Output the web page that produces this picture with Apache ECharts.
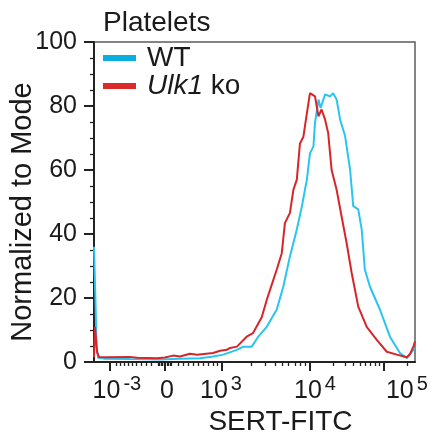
<!DOCTYPE html>
<html>
<head>
<meta charset="utf-8">
<script src="https://cdn.jsdelivr.net/npm/echarts@6/dist/echarts.min.js"></script>
<style>
html,body{margin:0;padding:0;background:#fff;}
#chart{width:431px;height:438px;}
</style>
</head>
<body>
<div id="chart"></div>
<script>
// ---- data (x in display channel units 0..1024 of the biexponential scale) ----
var seriesNames = ['WT', 'Ulk1 ko'];

var wtChannel = [0,5,8,13,35,115,211,274,338,380,412,456,476,503,524,551,583,604,625,647,663,679,689,700,705,716,723,737,753,763,774,785,801,817,827,843,854,864,880,912,944,976,998,1019,1024];
var wtValues  = [36,18,5,1.3,1.0,0.9,0.8,1.0,1.2,1.7,2.3,3.8,4.8,4.8,7.9,11,16.4,23.6,33,41.4,48.6,57,65.2,67.4,74.7,82,79.4,83.6,83,84,82,75.8,70.6,60,48.7,47.7,41.4,28.9,23.6,16.4,7.9,2.8,1.2,3.8,4.5];

var koChannel = [0,3,10,16,41,115,137,201,226,252,274,306,329,380,402,424,434,456,487,507,535,551,583,599,609,625,636,647,657,668,679,689,695,705,716,726,737,747,758,774,790,806,822,843,870,902,934,966,998,1008,1019,1024];
var koValues  = [1.5,11,3,1.6,1.5,1.6,1.3,1.2,1.4,2.0,1.7,2.6,2.3,2.8,3.5,3.8,4.4,4.8,7.9,9,14,19.4,28.9,34,43.4,46.6,53.8,57,68.3,70.4,77.7,84,83.5,83,76.8,78.9,75.8,71.6,60,53.8,45.4,37.1,27.8,17.3,11,6.9,3.2,2.3,1.5,2.5,4.8,6.5];

// axis ticks (channel positions)
var xMajorTicks = [51, 226, 408, 689, 925];
var xMinorTicks = [70,83,96,109,122,136,152,168,184,
                   204,209,214,219,224,233,238,243,248,
                   268,284,300,316,332,348,364,380,392,
                   501,546,578,600,619,641,657,673,
                   762,801,826,848,864,880,896,909,
                   998];
var xLabelPos  = [73, 233, 405, 705, 998];
var xLabelBase = ['10', '0', '10', '10', '10'];
var xLabelExp  = ['-3', '', '3', '4', '5'];

var yTicks = [0, 20, 40, 60, 80, 100];

var FONT = "'Liberation Sans', Arial, Helvetica, sans-serif";
var TXT = '#1a1a1a';

function pair(xs, ys) { return xs.map(function (x, i) { return [x, ys[i]]; }); }

var chart = echarts.init(document.getElementById('chart'), null, {renderer: 'canvas'});
chart.setOption({
  animation: false,
  backgroundColor: '#fff',
  textStyle: {fontFamily: FONT},
  title: {
    text: 'Platelets',
    left: 103, top: 9, padding: 0,
    textStyle: {fontFamily: FONT, fontSize: 28, fontWeight: 'normal', color: TXT, lineHeight: 28}
  },
  legend: {
    orient: 'vertical',
    left: 103, top: 44, padding: 0,
    itemGap: 0,
    itemWidth: 33, itemHeight: 6,
    icon: 'rect',
    data: [
      {name: seriesNames[0], itemStyle: {color: '#0aaedf'}},
      {name: seriesNames[1], itemStyle: {color: '#dc2a2a'}}
    ],
    formatter: function (name) {
      return name === seriesNames[1] ? '{i|Ulk1} ko' : name;
    },
    textStyle: {
      fontFamily: FONT, fontSize: 28, lineHeight: 27, color: TXT, padding: [0, 0, 0, 6],
      rich: {i: {fontFamily: FONT, fontSize: 28, fontStyle: 'italic', color: TXT}}
    }
  },
  grid: {
    left: 94, right: 16, top: 42, bottom: 76,
    containLabel: false, outerBoundsMode: 'none',
    show: true, borderColor: '#5c5c5c', borderWidth: 1.5, backgroundColor: 'transparent'
  },
  xAxis: [
    {
      type: 'value', position: 'bottom', min: 0, max: 1024,
      name: 'SERT-FITC', nameLocation: 'middle', nameGap: 46, nameMoveOverlap: false,
      nameTextStyle: {fontFamily: FONT, fontSize: 28, color: TXT, padding: [0, 0, 0, 52]},
      axisLine: {show: true, onZero: false, lineStyle: {color: '#222', width: 2}},
      axisTick: {show: true, customValues: xMajorTicks, length: 9, lineStyle: {color: '#222', width: 2}},
      axisLabel: {show: false},
      splitLine: {show: false}
    },
    {
      type: 'value', position: 'bottom', min: 0, max: 1024,
      axisLine: {show: false},
      axisTick: {show: true, customValues: xMinorTicks, length: 4, lineStyle: {color: '#222', width: 1.3}},
      axisLabel: {show: false},
      splitLine: {show: false}
    },
    {
      type: 'value', position: 'bottom', min: 0, max: 1024,
      axisLine: {show: false},
      axisTick: {show: false},
      axisLabel: {
        show: true, customValues: xLabelPos, margin: 12,
        formatter: function (v) {
          var k = 0, best = Infinity;
          for (var i = 0; i < xLabelPos.length; i++) {
            var d = Math.abs(xLabelPos[i] - v);
            if (d < best) { best = d; k = i; }
          }
          return '{b|' + xLabelBase[k] + '}' + (xLabelExp[k] ? '{s|' + xLabelExp[k] + '}' : '');
        },
        rich: {
          b: {fontFamily: FONT, fontSize: 25, lineHeight: 34, color: TXT},
          s: {fontFamily: FONT, fontSize: 20, lineHeight: 20, verticalAlign: 'top', color: TXT, padding: [0, 0, 0, 3]}
        }
      },
      splitLine: {show: false}
    }
  ],
  yAxis: {
    type: 'value', min: 0, max: 100, interval: 20,
    name: 'Normalized to Mode', nameLocation: 'middle', nameGap: 57, nameMoveOverlap: false,
    nameTextStyle: {fontFamily: FONT, fontSize: 29, color: TXT, padding: [0, 20, 0, 0]},
    axisLine: {show: true, lineStyle: {color: '#222', width: 2}},
    axisTick: {show: true, customValues: yTicks, length: 10, lineStyle: {color: '#222', width: 2}},
    minorTick: {show: true, splitNumber: 4, length: 4, lineStyle: {color: '#222', width: 1.3}},
    axisLabel: {fontFamily: FONT, fontSize: 25, color: TXT, margin: 17, padding: [5, 0, 0, 0]},
    splitLine: {show: false}
  },
  series: [
    {
      name: seriesNames[0], type: 'line', xAxisIndex: 0, showSymbol: false, symbol: 'none',
      data: pair(wtChannel, wtValues),
      itemStyle: {color: '#2ac4f0'},
      lineStyle: {color: '#2ac4f0', width: 2}
    },
    {
      name: seriesNames[1], type: 'line', xAxisIndex: 0, showSymbol: false, symbol: 'none',
      data: pair(koChannel, koValues),
      itemStyle: {color: '#d6262a'},
      lineStyle: {color: '#d6262a', width: 2}
    }
  ]
});
</script>
</body>
</html>
